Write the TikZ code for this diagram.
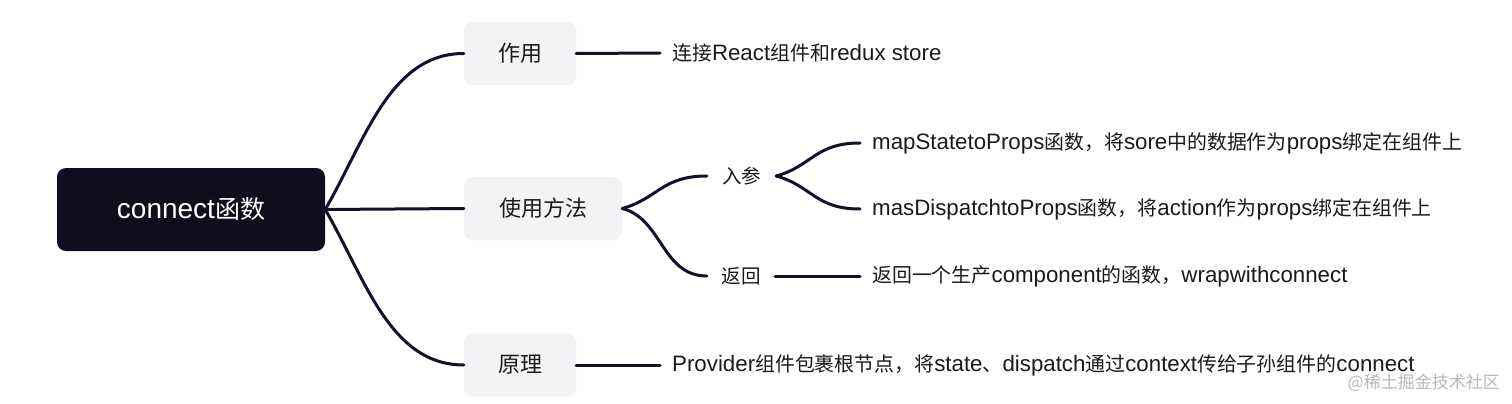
\documentclass[tikz,border=0pt]{standalone}
\usepackage{fontspec}
\setmainfont{Noto Sans CJK SC}
\newfontfamily\lat{Liberation Sans}[Scale=1.12]
\definecolor{rootbg}{HTML}{0F0E1F}
\definecolor{boxbg}{HTML}{F3F3F5}
\definecolor{linec}{HTML}{12112A}
\definecolor{txt}{HTML}{1A1A1A}
\definecolor{wm}{HTML}{B8B8B8}
\tikzset{
  rootbox/.style={fill=rootbg, rounded corners=9pt, text=white, minimum width=268pt, minimum height=83pt, inner sep=0pt, font=\fontsize{25}{30}\selectfont},
  lvlbox/.style={fill=boxbg, rounded corners=9pt, text=txt, minimum height=63pt, inner sep=0pt, font=\fontsize{22}{26}\selectfont},
  lvltwo/.style={text=txt, minimum height=30pt, inner sep=0pt, font=\fontsize{19.5}{23}\selectfont},
  leaf/.style={anchor=west, text=txt, inner xsep=12pt, inner ysep=0pt, font=\fontsize{19.9}{23}\selectfont},
  conn/.style={draw=linec, line width=3pt, line cap=round},
}
\begin{document}
\begin{tikzpicture}[x=1pt,y=-1pt]
\useasboundingbox (0,0) rectangle (1512,404);
\fill[white] (0,0) rectangle (1512,404);

\node[rootbox] (root) at (191,209.5) {{\lat connect}函数};
\node[lvlbox, minimum width=112pt] (zy) at (520,53.5) {作用};
\node[lvlbox, minimum width=158pt] (syff) at (543,208.5) {使用方法};
\node[lvlbox, minimum width=112pt] (yl) at (520,365) {原理};

\node[lvltwo, minimum width=69pt] (rc) at (741.5,176) {入参};
\node[lvltwo, minimum width=68pt] (fh) at (741,276) {返回};

\node[leaf] (l1) at (660,53) {连接{\lat React}组件和{\lat redux store}};
\node[leaf] (l2) at (860,143) {{\lat mapStatetoProps}函数，将{\lat sore}中的数据作为{\lat props}绑定在组件上};
\node[leaf] (l3) at (860,209) {{\lat masDispatchtoProps}函数，将{\lat action}作为{\lat props}绑定在组件上};
\node[leaf] (l4) at (860,276) {返回一个生产{\lat component}的函数，{\lat wrapwithconnect}};
\node[leaf] (l5) at (660,365) {{\lat Provider}组件包裹根节点，将{\lat state}、{\lat dispatch}通过{\lat context}传给子孙组件的{\lat connect}};

\node[text=wm, anchor=east, inner sep=0pt, font=\fontsize{17}{20}\selectfont] (wmk) at (1500,383) {@稀土掘金技术社区};

% root connectors
\draw[conn] (root.east) .. controls +(40,-69) and +(-74,0) .. (zy.west);
\draw[conn] (root.east) -- (syff.west);
\draw[conn] (root.east) .. controls +(40,69) and +(-74,0) .. (yl.west);

% level 1 to leaves
\draw[conn] (zy.east) -- (l1.west);
\draw[conn] (yl.east) -- (l5.west);

% usage branches
\draw[conn] (syff.east) .. controls +(36,-10) and +(-45,0) .. (rc.west);
\draw[conn] (syff.east) .. controls +(40,10) and +(-45,0) .. (fh.west);
\draw[conn] (rc.east) .. controls +(36,-10) and +(-45,0) .. (l2.west);
\draw[conn] (rc.east) .. controls +(36,10) and +(-45,0) .. (l3.west);
\draw[conn] (fh.east) -- (l4.west);
\end{tikzpicture}
\end{document}
